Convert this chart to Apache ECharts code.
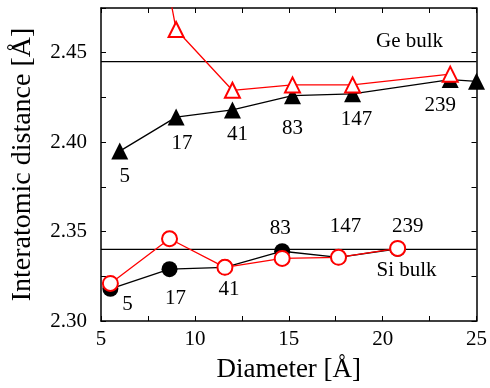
<!DOCTYPE html>
<html>
<head>
<meta charset="utf-8">
<script src="https://cdn.jsdelivr.net/npm/echarts@6/dist/echarts.min.js"></script>
<style>
html,body{margin:0;padding:0;background:#fff;}
#chart{width:490px;height:388px;}
</style>
</head>
<body>
<div id="chart"></div>
<script>
// ---- data ----
var geBulk = 2.445;
var siBulk = 2.340;
var geBlackX = [6.0, 9.0, 12.0, 15.2, 18.4, 23.6, 25.0];
var geBlackY = [2.395, 2.414, 2.418, 2.426, 2.427, 2.435, 2.434];
var geRedX = [6.0, 9.0, 12.0, 15.2, 18.4, 23.6];
var geRedY = [2.63, 2.463, 2.429, 2.432, 2.432, 2.438];
var siBlackX = [5.5, 8.65, 11.6, 14.65, 17.65, 20.8];
var siBlackY = [2.318, 2.329, 2.330, 2.339, 2.3356, 2.3404];
var siRedX = [5.5, 8.65, 11.6, 14.65, 17.65, 20.8];
var siRedY = [2.321, 2.346, 2.330, 2.335, 2.3356, 2.3406];
var geLabels = ['5', '17', '41', '83', '147', '239', ''];
var siLabels = ['5', '17', '41', '83', '147', '239'];
var xTicks = [5, 10, 15, 20, 25];
var yTicks = [2.30, 2.35, 2.40, 2.45];

// ---- layout ----
var FONT = "'Liberation Serif','Times New Roman',serif";
var geOffsets = [[5, 25], [6, 26], [5, 25], [0, 33], [4, 26], [-10, 26], [0, 0]];
var siOffsets = [[17, 16], [6, 29], [4, 22], [-2, -23], [7, -31], [10, -22]];

function pts(xs, ys) { return xs.map(function (x, i) { return [x, ys[i]]; }); }
function labeled(xs, ys, labels, offs) {
  return xs.map(function (x, i) {
    return {
      value: [x, ys[i]],
      label: { show: !!labels[i], formatter: labels[i], position: 'inside', offset: offs[i] }
    };
  });
}

var labelStyle = { color: '#000', fontFamily: FONT, fontSize: 21 };

var axisCommon = {
  axisLine: { lineStyle: { color: '#000', width: 1.5 } },
  axisTick: { inside: true, length: 5, lineStyle: { color: '#000', width: 1 } },
  minorTick: { show: true, splitNumber: 2, length: 5, lineStyle: { color: '#000', width: 1 } },
  splitLine: { show: false }
};

var option = {
  animation: false,
  backgroundColor: '#fff',
  grid: { left: 101, right: 10.5, top: 8, bottom: 65, containLabel: false },
  xAxis: [
    Object.assign({
      type: 'value', min: xTicks[0], max: xTicks[xTicks.length - 1], interval: 5,
      position: 'bottom',
      name: 'Diameter [Å]', nameLocation: 'middle', nameGap: 35,
      nameTextStyle: { fontFamily: FONT, fontSize: 27, color: '#000' },
      axisLabel: { fontFamily: FONT, fontSize: 21, color: '#000', margin: 8 }
    }, axisCommon),
    Object.assign({
      type: 'value', min: xTicks[0], max: xTicks[xTicks.length - 1], interval: 5,
      position: 'top', axisLabel: { show: false }
    }, axisCommon)
  ],
  yAxis: [
    Object.assign({
      type: 'value', min: yTicks[0], max: 2.475, interval: 0.05,
      position: 'left',
      name: 'Interatomic distance [Å]', nameLocation: 'middle', nameGap: 64,
      nameTextStyle: { fontFamily: FONT, fontSize: 28, color: '#000' },
      axisLabel: { fontFamily: FONT, fontSize: 21, color: '#000', margin: 14, showMaxLabel: false,
        formatter: function (v) { return v.toFixed(2); } }
    }, axisCommon),
    Object.assign({
      type: 'value', min: yTicks[0], max: 2.475, interval: 0.05,
      position: 'right', axisLabel: { show: false }
    }, axisCommon)
  ],
  series: [
    {
      type: 'line', z: 1, symbol: 'circle', symbolSize: 0, showAllSymbol: true, silent: true,
      itemStyle: { color: '#000', opacity: 1 },
      lineStyle: { color: '#000', width: 1.3 },
      data: [
        [xTicks[0], geBulk],
        { value: [xTicks[xTicks.length - 1], geBulk],
          label: { show: true, formatter: 'Ge bulk', position: 'inside', offset: [-67, -20] } }
      ],
      label: labelStyle
    },
    {
      type: 'line', z: 1, symbol: 'circle', symbolSize: 0, showAllSymbol: true, silent: true,
      itemStyle: { color: '#000', opacity: 1 },
      lineStyle: { color: '#000', width: 1.3 },
      data: [
        [xTicks[0], siBulk],
        { value: [xTicks[xTicks.length - 1], siBulk],
          label: { show: true, formatter: 'Si bulk', position: 'inside', offset: [-70, 21] } }
      ],
      label: labelStyle
    },
    {
      type: 'line', z: 2, symbol: 'triangle', symbolSize: 17, showAllSymbol: true,
      itemStyle: { color: '#000' },
      lineStyle: { color: '#000', width: 1.3 },
      data: labeled(geBlackX, geBlackY, geLabels, geOffsets),
      label: labelStyle
    },
    {
      type: 'line', z: 3, symbol: 'triangle', symbolSize: 15, showAllSymbol: true,
      itemStyle: { color: '#fff', borderColor: '#ff0000', borderWidth: 2 },
      lineStyle: { color: '#ff0000', width: 1.3 },
      data: pts(geRedX, geRedY)
    },
    {
      type: 'line', z: 2, symbol: 'circle', symbolSize: 16, showAllSymbol: true,
      itemStyle: { color: '#000' },
      lineStyle: { color: '#000', width: 1.3 },
      data: labeled(siBlackX, siBlackY, siLabels, siOffsets),
      label: labelStyle
    },
    {
      type: 'line', z: 3, symbol: 'circle', symbolSize: 15, showAllSymbol: true,
      itemStyle: { color: '#fff', borderColor: '#ff0000', borderWidth: 2 },
      lineStyle: { color: '#ff0000', width: 1.3 },
      data: pts(siRedX, siRedY)
    }
  ]
};

var chart = echarts.init(document.getElementById('chart'), null, { renderer: 'canvas' });
chart.setOption(option);
</script>
</body>
</html>
